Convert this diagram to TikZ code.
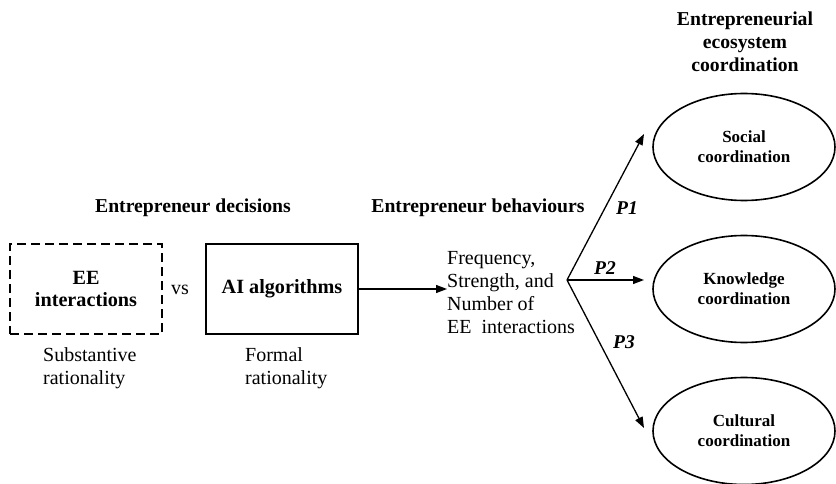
\documentclass[tikz,border=0pt]{standalone}
\usepackage{fontspec}
\setmainfont{Liberation Serif}
\usetikzlibrary{arrows.meta,shapes.geometric}
\tikzset{
  heading/.style={font=\fontsize{19.7}{23}\selectfont\bfseries, align=center, inner sep=0pt},
  plain/.style={font=\fontsize{20}{23}\selectfont, align=left, inner sep=0pt},
  decbox/.style={draw, line width=2.6pt, minimum width=152pt, minimum height=90pt,
    align=center, font=\fontsize{20.2}{22}\selectfont\bfseries},
  coord/.style={draw, ellipse, line width=1.6pt, minimum width=182pt, minimum height=107pt,
    align=center, font=\fontsize{17}{20}\selectfont\bfseries},
  prop/.style={font=\fontsize{19.5}{22}\selectfont\bfseries\itshape, inner sep=0pt},
  link/.style={line width=1.3pt, -{Triangle[length=11pt,width=8pt]}}
}
\begin{document}
\begin{tikzpicture}[x=1pt,y=-1pt]
      \useasboundingbox (0,0) rectangle (836,484);
      % decisions
      \node[heading] (dec) at (193,208) {Entrepreneur decisions};
      \node[decbox, dashed, dash pattern=on 9pt off 5pt] (ee) at (86,289) {EE\\interactions};
      \node[plain] (vs) at (180,290) {vs};
      \node[decbox] (ai) at (282,289) {AI algorithms};
      \node[plain, anchor=north west] (subst) at (43,347) {Substantive\\rationality};
      \node[plain, anchor=north west] (formal) at (245,347) {Formal\\rationality};
      % behaviours
      \node[heading] (beh) at (478,208) {Entrepreneur behaviours};
      \node[plain, anchor=west] (freq) at (447,293)
        {Frequency,\\Strength, and\\Number of\\EE~ interactions};
      \coordinate (fan) at (567,280);
      % coordination
      \node[heading] (eco) at (745,42) {Entrepreneurial\\ecosystem\\coordination};
      \node[coord] (social) at (744,147) {Social\\coordination};
      \node[coord] (know) at (744,289) {Knowledge\\coordination};
      \node[coord] (cult) at (744,431) {Cultural\\coordination};
      \coordinate (t1) at (644,134);
      \coordinate (t2) at (644,280);
      \coordinate (t3) at (644,428);
      \node[prop] (p1) at (627,208) {P1};
      \node[prop] (p2) at (605,268) {P2};
      \node[prop] (p3) at (624,342) {P3};
      \begin{scope}[link]
        \draw (ai.east) -- (ai.east -| freq.west);
        \draw (fan) to (t1);
        \draw (fan) to (t2);
        \draw (fan) to (t3);
      \end{scope}
    \end{tikzpicture}
\end{document}
